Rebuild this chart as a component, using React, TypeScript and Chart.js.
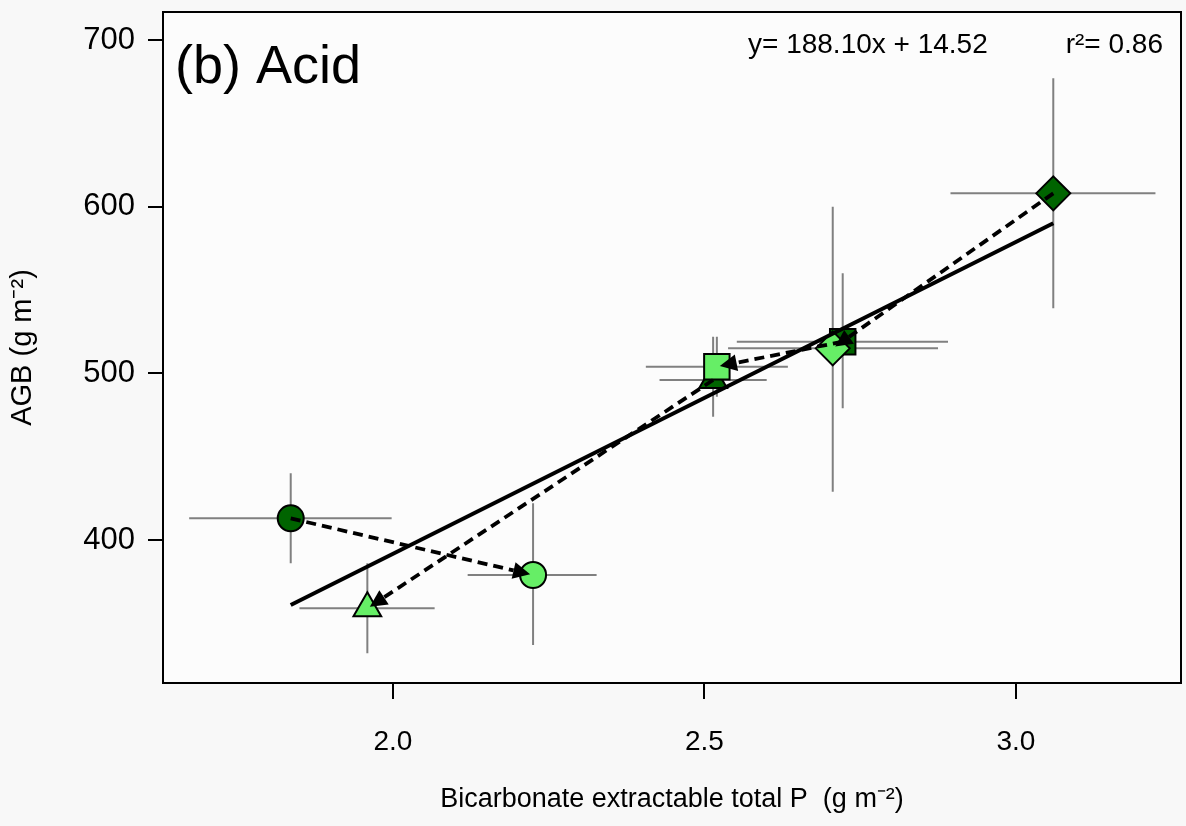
import React, { useEffect, useRef } from 'react';
import { Chart, registerables } from 'chart.js';

Chart.register(...registerables);

// ---- data ----
const groups = ['Circle', 'Triangle', 'Square', 'Diamond'];
const markerStyles = ['circle', 'triangle', 'rect', 'rectRot'];
const markerRadii = [13, 16, 18, 17];

const darkX = [1.836, 2.514, 2.722, 3.06];
const darkY = [413, 496, 519, 608];
const darkXLow = [1.673, 2.428, 2.552, 2.895];
const darkXHigh = [1.998, 2.6, 2.891, 3.224];
const darkYLow = [386, 474, 479, 539];
const darkYHigh = [440, 522, 560, 677];

const lightX = [2.225, 1.959, 2.52, 2.706];
const lightY = [379, 359, 504, 515];
const lightXLow = [2.12, 1.85, 2.406, 2.538];
const lightXHigh = [2.327, 2.067, 2.634, 2.875];
const lightYLow = [337, 332, 486, 429];
const lightYHigh = [422, 386, 522, 600];

const fitX = [1.836, 3.06];
const fitY = [361, 590];

const xTicks = [2.0, 2.5, 3.0];
const yTicks = [400, 500, 600, 700];

const panelLabel = '(b) Acid';
const equationText = 'y= 188.10x + 14.52';
const r2Text = 'r\u00B2= 0.86';
const xTitle = 'Bicarbonate extractable total P  (g m\u207B\u00B2)';
const yTitle = 'AGB (g m\u207B\u00B2)';

const FONT = "'Liberation Sans', Arial, Helvetica, sans-serif";
const DARK = '#006400';
const LIGHT = '#66EE66';

const decorPlugin = {
  id: 'decor',
  beforeDraw(chart: any) {
    const { ctx, chartArea: a } = chart;
    ctx.save();
    ctx.fillStyle = '#f8f8f8';
    ctx.fillRect(0, 0, chart.width, chart.height);
    ctx.fillStyle = '#fcfcfc';
    ctx.fillRect(a.left, a.top, a.right - a.left, a.bottom - a.top);
    ctx.restore();
  },
  beforeDatasetsDraw(chart: any) {
    const { ctx } = chart;
    const xs = chart.scales.x;
    const ys = chart.scales.y;
    ctx.save();
    ctx.strokeStyle = '#808080';
    ctx.lineWidth = 2;
    const drawBars = (X: number[], Y: number[], xl: number[], xh: number[], yl: number[], yh: number[]) => {
      for (let i = 0; i < X.length; i++) {
        const px = xs.getPixelForValue(X[i]);
        const py = ys.getPixelForValue(Y[i]);
        ctx.beginPath();
        ctx.moveTo(xs.getPixelForValue(xl[i]), py);
        ctx.lineTo(xs.getPixelForValue(xh[i]), py);
        ctx.moveTo(px, ys.getPixelForValue(yl[i]));
        ctx.lineTo(px, ys.getPixelForValue(yh[i]));
        ctx.stroke();
      }
    };
    drawBars(darkX, darkY, darkXLow, darkXHigh, darkYLow, darkYHigh);
    drawBars(lightX, lightY, lightXLow, lightXHigh, lightYLow, lightYHigh);
    ctx.restore();
  },
  afterDatasetsDraw(chart: any) {
    const { ctx, chartArea: a } = chart;
    const xs = chart.scales.x;
    const ys = chart.scales.y;
    ctx.save();
    // dashed arrows from dark to light
    for (let i = 0; i < groups.length; i++) {
      const x0 = xs.getPixelForValue(darkX[i]);
      const y0 = ys.getPixelForValue(darkY[i]);
      const x1 = xs.getPixelForValue(lightX[i]);
      const y1 = ys.getPixelForValue(lightY[i]);
      const dx = x1 - x0;
      const dy = y1 - y0;
      const len = Math.hypot(dx, dy);
      const ux = dx / len;
      const uy = dy / len;
      const tipX = x1 - ux * 3;
      const tipY = y1 - uy * 3;
      const headLen = 17;
      const headW = 8.5;
      const baseX = tipX - ux * headLen;
      const baseY = tipY - uy * headLen;
      ctx.setLineDash([10, 6]);
      ctx.strokeStyle = '#000';
      ctx.lineWidth = 3.8;
      ctx.beginPath();
      ctx.moveTo(x0, y0);
      ctx.lineTo(baseX, baseY);
      ctx.stroke();
      ctx.setLineDash([]);
      ctx.fillStyle = '#000';
      ctx.beginPath();
      ctx.moveTo(tipX, tipY);
      ctx.lineTo(baseX - uy * headW, baseY + ux * headW);
      ctx.lineTo(baseX + uy * headW, baseY - ux * headW);
      ctx.closePath();
      ctx.fill();
    }
    // frame
    ctx.strokeStyle = '#000';
    ctx.lineWidth = 2;
    ctx.strokeRect(a.left, a.top, a.right - a.left, a.bottom - a.top);
    // texts
    ctx.fillStyle = '#000';
    ctx.textBaseline = 'alphabetic';
    ctx.font = `54px ${FONT}`;
    ctx.textAlign = 'left';
    ctx.fillText(panelLabel, a.left + 12, a.top + 71);
    ctx.font = `28px ${FONT}`;
    ctx.fillText(equationText, a.left + 585, a.top + 41);
    ctx.textAlign = 'right';
    ctx.fillText(r2Text, a.right - 18, a.top + 41);
    ctx.restore();
  },
};

export default function App() {
  const canvasRef = useRef<HTMLCanvasElement | null>(null);

  useEffect(() => {
    const canvas = canvasRef.current;
    if (!canvas) return;
    const chart = new Chart(canvas, {
      type: 'scatter',
      data: {
        datasets: [
          {
            type: 'line',
            label: 'Fit',
            data: fitX.map((x, i) => ({ x, y: fitY[i] })),
            borderColor: '#000',
            borderWidth: 4,
            pointRadius: 0,
            showLine: true,
            fill: false,
            order: 0,
          } as any,
          {
            label: 'Light',
            data: lightX.map((x, i) => ({ x, y: lightY[i] })),
            pointStyle: markerStyles as any,
            pointRadius: markerRadii,
            backgroundColor: LIGHT,
            borderColor: '#000',
            borderWidth: 2,
            order: 1,
          },
          {
            label: 'Dark',
            data: darkX.map((x, i) => ({ x, y: darkY[i] })),
            pointStyle: markerStyles as any,
            pointRadius: markerRadii,
            backgroundColor: DARK,
            borderColor: '#000',
            borderWidth: 2,
            order: 2,
          },
        ],
      },
      options: {
        animation: false,
        responsive: false,
        events: [],
        layout: { autoPadding: false, padding: { top: 12, right: 5, left: 0, bottom: 0 } },
        plugins: {
          legend: { display: false },
          tooltip: { enabled: false },
        },
        scales: {
          x: {
            type: 'linear',
            min: 1.631,
            max: 3.265,
            afterBuildTicks: (s: any) => {
              s.ticks = xTicks.map((v) => ({ value: v }));
            },
            afterFit: (s: any) => {
              s.height = 143;
              s.paddingLeft = 0;
              s.paddingRight = 0;
              s.paddingTop = 0;
              s.paddingBottom = 0;
            },
            ticks: {
              callback: (v: any) => Number(v).toFixed(1),
              color: '#000',
              font: { family: FONT, size: 28 },
              padding: 26,
              maxRotation: 0,
            },
            grid: {
              drawOnChartArea: false,
              drawTicks: true,
              tickLength: 16,
              color: '#000',
              lineWidth: 2,
            },
            border: { display: false },
            title: {
              display: true,
              text: xTitle,
              color: '#000',
              font: { family: FONT, size: 27 },
              padding: { top: 0, bottom: 10 },
            },
          },
          y: {
            type: 'linear',
            min: 314.2,
            max: 716.8,
            afterBuildTicks: (s: any) => {
              s.ticks = yTicks.map((v) => ({ value: v }));
            },
            afterFit: (s: any) => {
              s.width = 163;
              s.paddingLeft = 0;
              s.paddingRight = 0;
              s.paddingTop = 0;
              s.paddingBottom = 0;
            },
            ticks: {
              callback: (v: any) => String(v),
              color: '#000',
              font: { family: FONT, size: 31 },
              padding: 13,
            },
            grid: {
              drawOnChartArea: false,
              drawTicks: true,
              tickLength: 15,
              color: '#000',
              lineWidth: 2,
            },
            border: { display: false },
            title: {
              display: true,
              text: yTitle,
              color: '#000',
              font: { family: FONT, size: 29 },
              padding: { top: 6, bottom: 0 },
            },
          },
        },
      },
      plugins: [decorPlugin],
    });
    return () => chart.destroy();
  }, []);

  return (
    <div style={{ position: 'fixed', left: 0, top: 0, width: 1186, height: 826 }}>
      <canvas ref={canvasRef} width={1186} height={826} style={{ display: 'block' }} />
    </div>
  );
}
